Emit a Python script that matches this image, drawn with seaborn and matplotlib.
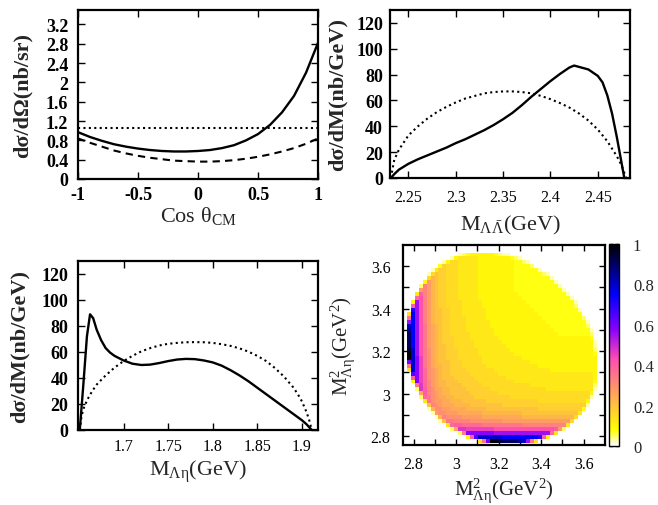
import numpy as np
import matplotlib
matplotlib.use("Agg")
import matplotlib.pyplot as plt
import seaborn as sns

# --- top left: angular distribution ---
cos_theta = [-1.0, -0.9, -0.8, -0.7, -0.6, -0.5, -0.4, -0.3, -0.2, -0.1, 0.0,
             0.1, 0.2, 0.3, 0.4, 0.5, 0.6, 0.7, 0.8, 0.9, 1.0]
dsdo_full = [0.97, 0.87, 0.79, 0.72, 0.67, 0.63, 0.60, 0.58, 0.57, 0.57, 0.58,
             0.60, 0.64, 0.70, 0.80, 0.93, 1.12, 1.38, 1.72, 2.20, 2.82]
dsdo_dashed = [0.84, 0.75, 0.67, 0.59, 0.53, 0.48, 0.44, 0.41, 0.38, 0.37, 0.36,
               0.36, 0.37, 0.39, 0.42, 0.46, 0.51, 0.57, 0.64, 0.73, 0.84]
cos_flat = [-1.0, 1.0]
dsdo_flat = [1.05, 1.05]

# --- top right: Lambda anti-Lambda invariant mass ---
m_ll = [2.2314, 2.235, 2.24, 2.25, 2.26, 2.27, 2.28, 2.29, 2.30, 2.31, 2.32,
        2.33, 2.34, 2.35, 2.36, 2.37, 2.38, 2.39, 2.40, 2.41, 2.42, 2.425,
        2.43, 2.44, 2.45, 2.455, 2.46, 2.465, 2.47, 2.475, 2.478]
dsdm_ll = [0, 3, 6.5, 11, 14.5, 17.5, 20.5, 23.5, 27, 30, 33.5,
           37, 41, 45.5, 50.5, 56.5, 63, 69, 75, 80.5, 85.5, 87,
           86, 84, 79, 74, 64, 50, 32, 12, 0]
m_ll_ps = [2.2314, 2.235, 2.24, 2.25, 2.26, 2.27, 2.28, 2.29, 2.30, 2.31, 2.32,
           2.33, 2.34, 2.35, 2.36, 2.37, 2.38, 2.39, 2.40, 2.41, 2.42, 2.43,
           2.44, 2.45, 2.46, 2.47, 2.475, 2.48]
dsdm_ll_ps = [0, 14, 22, 33, 40, 46, 51, 55, 58.5, 61.5, 63.5,
              65.5, 66.5, 67, 67, 66.5, 65.5, 63.5, 61, 58, 54.5, 50,
              44.5, 37.5, 28.5, 17, 10, 0]

# --- bottom left: Lambda eta invariant mass ---
m_le = [1.651, 1.655, 1.659, 1.6625, 1.666, 1.670, 1.675, 1.680, 1.685, 1.690,
        1.700, 1.710, 1.720, 1.730, 1.740, 1.750, 1.760, 1.770, 1.780, 1.790,
        1.800, 1.810, 1.820, 1.830, 1.840, 1.850, 1.860, 1.870, 1.880, 1.890,
        1.900, 1.905, 1.911]
dsdm_le = [0, 35, 72, 89, 86, 77, 69, 63, 59.5, 57,
           53.5, 51, 50, 50.3, 51.5, 53, 54.2, 54.7, 54.5, 53.5,
           52, 49.5, 46, 42, 37.5, 32.5, 27.5, 22.5, 17.5, 12.5,
           7.5, 4.5, 0]
m_le_ps = [1.651, 1.653, 1.656, 1.660, 1.665, 1.670, 1.680, 1.690, 1.700, 1.710,
           1.720, 1.730, 1.740, 1.750, 1.760, 1.770, 1.780, 1.790, 1.800, 1.810,
           1.820, 1.830, 1.840, 1.850, 1.860, 1.870, 1.880, 1.890, 1.895, 1.900,
           1.905, 1.908, 1.911]
dsdm_le_ps = [0, 11, 18, 24, 30, 35, 42, 48, 53, 57,
              60.5, 63, 65, 66.3, 67, 67.5, 67.6, 67.5, 67, 66,
              64.7, 62.8, 60.3, 57, 53, 47.5, 41, 33, 28, 22,
              14, 8, 0]

# --- bottom right: Dalitz plot, 48x48 bins, value = LEVELS.index(ch) / 40 ---
dalitz_lo, dalitz_hi, dalitz_n = 2.7674, 3.6646, 48
LEVELS = "0123456789abcdefghijklmnopqrstuvwxyzABCDE"
# (first filled column, cell levels), top row first
DALITZ_ROWS = [
    (13, "1234444443211"),
    (11, "14" + "55555" + "4" * 8 + "321"),
    (9, "14" + "66" + "55555" + "4" * 9 + "33" + "21"),
    (8, "37666" + "55555" + "4" * 9 + "3333" + "2"),
    (6, "15" + "77" + "666" + "55555" + "4" * 9 + "3" * 6 + "1"),
    (5, "16" + "8" + "77" + "666" + "55555" + "4" * 9 + "3" * 7 + "21"),
    (5, "6" + "98" + "77" + "666" + "55555" + "4" * 9 + "3" * 9 + "1"),
    (4, "4b98" + "77" + "666" + "55555" + "4" * 9 + "3" * 10 + "1"),
    (3, "2db98" + "77" + "666" + "55555" + "4" * 9 + "3" * 11 + "1"),
    (3, "bdb98" + "77" + "666" + "55555" + "4" * 9 + "3" * 12 + "1"),
    (2, "5gdb98" + "77" + "666" + "55555" + "4" * 10 + "3" * 12 + "1"),
    (2, "fhdb98" + "77" + "666" + "55555" + "4" * 11 + "3" * 12 + "1"),
    (1, "4mhdb98" + "77" + "6666" + "55555" + "4" * 11 + "3" * 12 + "1"),
    (1, "gmhdb98" + "77" + "6666" + "55555" + "4" * 12 + "3" * 11 + "2"),
    (1, "smhdb988" + "77" + "666" + "555555" + "4" * 12 + "3" * 11 + "1"),
    (0, "6umhdb988" + "77" + "666" + "555555" + "4" * 13 + "3" * 11),
    (0, "eumhdb988" + "77" + "6666" + "55555" + "4" * 14 + "3" * 10 + "2"),
    (0, "mumhdb988" + "77" + "6666" + "555555" + "4" * 14 + "3" * 10 + "1"),
    (0, "wumheba98" + "77" + "6666" + "555555" + "4" * 15 + "3" * 9 + "2"),
    (0, "yumheba98" + "77" + "6666" + "5" * 7 + "4" * 15 + "3" * 9 + "1"),
    (0, "Aumheba98" + "77" + "66666" + "555555" + "4" * 16 + "3" * 8 + "2"),
    (0, "Aumheba98" + "777" + "6666" + "5" * 7 + "4" * 23 + "3"),
    (0, "Aumheba98" + "777" + "66666" + "5" * 7 + "4" * 23 + "1"),
    (0, "Aumheba988" + "77" + "66666" + "5" * 8 + "4" * 22 + "1"),
    (0, "Cwmheca988" + "777" + "66666" + "5" * 8 + "4" * 21 + "2"),
    (0, "Ewmheca988" + "777" + "66666" + "5" * 9 + "4" * 20 + "3"),
    (0, "Ewnieca988" + "777" + "666666" + "5" * 10 + "4" * 19),
    (0, "ownieca988" + "8" + "777" + "66666" + "5" * 12 + "4" * 17),
    (0, "ewnieca998" + "8" + "777" + "666666" + "5" * 13 + "4" * 15),
    (0, "6wnifcba98" + "8" + "7777" + "6" * 7 + "5" * 14 + "4" * 12),
    (1, "qnifcba988" + "77777" + "6" * 7 + "5" * 24 + "4"),
    (1, "gnifcba988" + "8" + "77777" + "6" * 8 + "5" * 22 + "4"),
    (1, "4nifdba99" + "888" + "77777" + "6" * 9 + "5" * 20 + "3"),
    (2, "ejfdba99" + "8888" + "77777" + "6" * 12 + "5" * 16 + "2"),
    (2, "2jgdcaa99" + "8888" + "777777" + "6" * 14 + "5" * 12 + "1"),
    (3, "agdcba99" + "88888" + "7" * 7 + "6" * 23 + "4"),
    (3, "2fecbaa99" + "88888" + "7" * 9 + "6" * 20 + "1"),
    (4, "5ecbbaa999" + "888888" + "7" * 13 + "6" * 12 + "4"),
    (5, "8dcbaaa9999" + "8" * 8 + "7" * 21 + "1"),
    (5, "19ccbbaaaa" + "99999" + "8" * 13 + "7" * 11 + "3"),
    (6, "1bccbbb" + "aaaaaa" + "9" * 10 + "8" * 14 + "5"),
    (7, "19dcccc" + "bbbbb" + "a" * 10 + "9" * 13 + "6"),
    (8, "18ee" + "dddd" + "c" * 8 + "b" * 17 + "6"),
    (10, "5fgg" + "fffff" + "e" * 10 + "d" * 11 + "5"),
    (11, "2ajj" + "i" * 7 + "h" * 15 + "g" + "b2"),
    (13, "2e" + "n" * 7 + "m" * 14 + "f5"),
    (15, "4gq" + "w" * 6 + "u" * 9 + "sg4"),
    (18, "6eoEECAAAAywme6"),
]

sns.set_style("ticks")
plt.rcParams["font.family"] = ["Liberation Serif", "DejaVu Serif"]
plt.rcParams.update({
    "mathtext.fontset": "custom",
    "mathtext.rm": "Liberation Serif",
    "mathtext.it": "Liberation Serif:italic",
    "mathtext.bf": "Liberation Serif:bold",
    "axes.unicode_minus": False,
})

W, H = 658, 506
fig = plt.figure(figsize=(W / 100, H / 100), dpi=100)


def box(x0, y0, x1, y1):
    # pixel box (top-left origin) -> figure fraction
    return [x0 / W, 1 - y1 / H, (x1 - x0) / W, (y1 - y0) / H]


def style(ax, xticks, yticks, xbold, ybold, xsize, ysize, xpad, ypad):
    ax.set_xticks(xticks)
    ax.set_yticks(yticks)
    ax.set_xticklabels([f"{t:g}" for t in xticks], fontsize=xsize,
                       fontweight="bold" if xbold else "normal")
    ax.set_yticklabels([f"{t:g}" for t in yticks], fontsize=ysize,
                       fontweight="bold" if ybold else "normal")
    ax.tick_params(direction="in", top=True, right=True, length=5, width=1,
                   color="black", labelcolor="black")
    ax.tick_params(axis="x", pad=xpad)
    ax.tick_params(axis="y", pad=ypad)
    for s in ax.spines.values():
        s.set_linewidth(1.6)
        s.set_color("black")


dot = (0, (1, 1.6))
dash = (0, (3.5, 2.5))

# top left
ax1 = fig.add_axes(box(78, 11, 318, 180))
sns.lineplot(x=cos_theta, y=dsdo_full, ax=ax1, color="black", lw=1.7, estimator=None)
sns.lineplot(x=cos_theta, y=dsdo_dashed, ax=ax1, color="black", lw=1.5,
             linestyle=dash, estimator=None)
sns.lineplot(x=cos_flat, y=dsdo_flat, ax=ax1, color="black", lw=1.5,
             linestyle=dot, estimator=None)
ax1.set_xlim(-1, 1)
ax1.set_ylim(0, 3.5)
style(ax1, [-1, -0.5, 0, 0.5, 1], [0, 0.4, 0.8, 1.2, 1.6, 2, 2.4, 2.8, 3.2],
      True, True, 13, 13, 5, 7)
ax1.set_xlabel("Cos θ$_{\\mathrm{CM}}$", fontsize=16)
ax1.set_ylabel("dσ/dΩ(nb/sr)", fontsize=16, fontweight="bold")
ax1.xaxis.set_label_coords(0.5, -0.145)
ax1.yaxis.set_label_coords(-0.19, 0.5)

# top right
ax2 = fig.add_axes(box(390, 11, 630, 179))
sns.lineplot(x=m_ll, y=dsdm_ll, ax=ax2, color="black", lw=1.7, estimator=None)
sns.lineplot(x=m_ll_ps, y=dsdm_ll_ps, ax=ax2, color="black", lw=1.5,
             linestyle=dot, estimator=None)
ax2.set_xlim(2.2305, 2.484)
ax2.set_ylim(0, 130)
style(ax2, [2.25, 2.3, 2.35, 2.4, 2.45], [0, 20, 40, 60, 80, 100, 120],
      False, True, 11.5, 13, 8, 5)
ax2.set_xlabel("M$_{\\mathrm{\\Lambda\\bar{\\Lambda}}}$(GeV)", fontsize=16)
ax2.set_ylabel("dσ/dM(nb/GeV)", fontsize=16, fontweight="bold")
ax2.xaxis.set_label_coords(0.5, -0.21)
ax2.yaxis.set_label_coords(-0.175, 0.5)

# bottom left
ax3 = fig.add_axes(box(78, 262, 318, 431))
sns.lineplot(x=m_le, y=dsdm_le, ax=ax3, color="black", lw=1.7, estimator=None)
sns.lineplot(x=m_le_ps, y=dsdm_le_ps, ax=ax3, color="black", lw=1.5,
             linestyle=dot, estimator=None)
ax3.set_xlim(1.649, 1.918)
ax3.set_ylim(0, 130)
style(ax3, [1.7, 1.75, 1.8, 1.85, 1.9], [0, 20, 40, 60, 80, 100, 120],
      False, True, 11.5, 13, 6, 7)
ax3.set_xlabel("M$_{\\mathrm{\\Lambda\\eta}}$(GeV)", fontsize=16)
ax3.set_ylabel("dσ/dM(nb/GeV)", fontsize=16, fontweight="bold")
ax3.xaxis.set_label_coords(0.5, -0.16)
ax3.yaxis.set_label_coords(-0.2, 0.5)

# bottom right: Dalitz plot
grid = np.full((dalitz_n, dalitz_n), np.nan)
for i, (start, cells) in enumerate(DALITZ_ROWS):
    row = dalitz_n - 1 - i
    for j, ch in enumerate(cells):
        if start + j < dalitz_n:
            grid[row, start + j] = LEVELS.index(ch) / 40.0
edges = np.linspace(dalitz_lo, dalitz_hi, dalitz_n + 1)

ax4 = fig.add_axes(box(403, 246, 605, 446))
mesh = ax4.pcolormesh(edges, edges, grid, cmap="gnuplot2_r", vmin=0, vmax=1,
                      shading="flat")
ax4.set_xlim(2.75, 3.70)
ax4.set_ylim(2.758, 3.70)
hticks = [2.8, 3.0, 3.2, 3.4, 3.6]
style(ax4, hticks, hticks, False, False, 11.5, 11.5, 8, 9)
ax4.set_xticks([2.9, 3.1, 3.3, 3.5], minor=True)
ax4.set_yticks([2.9, 3.1, 3.3, 3.5], minor=True)
ax4.tick_params(which="both", direction="in", top=True, right=True, length=4,
                width=1, color="black")
ax4.set_xlabel("M$^2_{\\mathrm{\\Lambda\\eta}}$(GeV$^2$)", fontsize=15)
ax4.set_ylabel("M$^2_{\\mathrm{\\Lambda\\eta}}$(GeV$^2$)", fontsize=15)
ax4.xaxis.set_label_coords(0.5, -0.155)
ax4.yaxis.set_label_coords(-0.225, 0.5)

cax = fig.add_axes(box(609, 245, 619, 447))
cb = fig.colorbar(mesh, cax=cax, ticks=[0, 0.2, 0.4, 0.6, 0.8, 1])
cb.set_ticklabels(["0", "0.2", "0.4", "0.6", "0.8", "1"])
cb.outline.set_linewidth(1.0)
cb.outline.set_edgecolor("black")
cax.tick_params(direction="in", left=True, right=True, length=3, width=1,
                color="black", labelsize=12, pad=10)

fig.savefig("out.png", dpi=100, facecolor="white")
